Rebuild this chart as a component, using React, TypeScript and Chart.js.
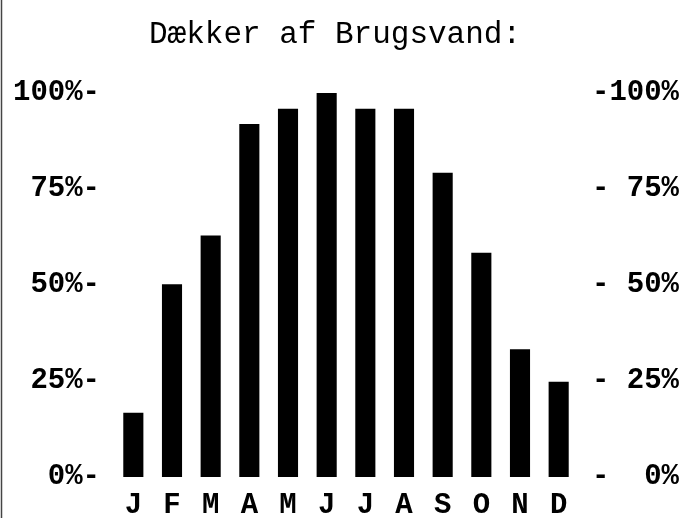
import React, { useEffect, useRef } from "react";
import { Chart, registerables } from "chart.js";

Chart.register(...registerables);

const TITLE = "Dækker af Brugsvand:";
const MONTHS = ["J", "F", "M", "A", "M", "J", "J", "A", "S", "O", "N", "D"];
const COVERAGE = [16.7, 50.2, 62.9, 91.9, 95.9, 100, 95.9, 95.9, 79.2, 58.4, 33.3, 24.8];
const Y_TICKS = [0, 25, 50, 75, 100];

const MONO = "'Liberation Mono', 'Courier New', monospace";

const leftEdge = {
  id: "leftEdge",
  afterDraw(chart: any) {
    const { ctx, height } = chart;
    ctx.save();
    ctx.strokeStyle = "#444";
    ctx.lineWidth = 1.5;
    ctx.beginPath();
    ctx.moveTo(1.5, 0);
    ctx.lineTo(1.5, height);
    ctx.stroke();
    ctx.restore();
  },
};

export default function App() {
  const ref = useRef<HTMLCanvasElement | null>(null);

  useEffect(() => {
    if (!ref.current) return;
    const setTicks = (scale: any) => {
      scale.ticks = Y_TICKS.map((v) => ({ value: v }));
    };
    const chart = new Chart(ref.current, {
      type: "bar",
      data: {
        labels: MONTHS,
        datasets: [
          {
            data: COVERAGE,
            backgroundColor: "#000",
            borderWidth: 0,
            barPercentage: 0.52,
            categoryPercentage: 1,
            yAxisID: "y",
          },
        ],
      },
      options: {
        responsive: false,
        animation: false,
        events: [],
        layout: { padding: { left: -16, right: 0, top: 0, bottom: 0 } },
        plugins: {
          legend: { display: false },
          tooltip: { enabled: false },
          title: {
            display: true,
            text: TITLE,
            color: "#000",
            font: { family: MONO, size: 31, weight: "normal", lineHeight: 1.2 },
            padding: { top: 16, bottom: 39.8 },
          },
        },
        scales: {
          x: {
            grid: { display: false, drawTicks: false },
            border: { display: false },
            ticks: {
              color: "#000",
              font: { family: MONO, size: 29, weight: "bold" },
              padding: 11,
              maxRotation: 0,
              autoSkip: false,
            },
            afterFit: (s: any) => {
              s.height = 41;
            },
          },
          y: {
            position: "left",
            min: 0,
            max: 100,
            grid: { display: false, drawTicks: false },
            border: { display: false },
            afterBuildTicks: setTicks,
            ticks: {
              color: "#000",
              font: { family: MONO, size: 29, weight: "bold" },
              padding: 14,
              callback: (v: any) => `${v}%-`,
            },
            afterFit: (s: any) => {
              s.width = 130;
            },
          },
          yRight: {
            position: "right",
            display: true,
            min: 0,
            max: 100,
            grid: { display: false, drawTicks: false },
            border: { display: false },
            afterBuildTicks: setTicks,
            ticks: {
              color: "#000",
              font: { family: MONO, size: 29, weight: "bold" },
              padding: 14,
              callback: (v: any) => `-${String(v).padStart(3, " ")}%`,
            },
            afterFit: (s: any) => {
              s.width = 108;
            },
          },
        },
      },
      plugins: [leftEdge],
    });
    return () => chart.destroy();
  }, []);

  return (
    <div style={{ position: "absolute", left: 0, top: 0, width: 686, height: 518, background: "#fff" }}>
      <canvas ref={ref} width={686} height={518} style={{ display: "block", width: 686, height: 518 }} />
    </div>
  );
}
